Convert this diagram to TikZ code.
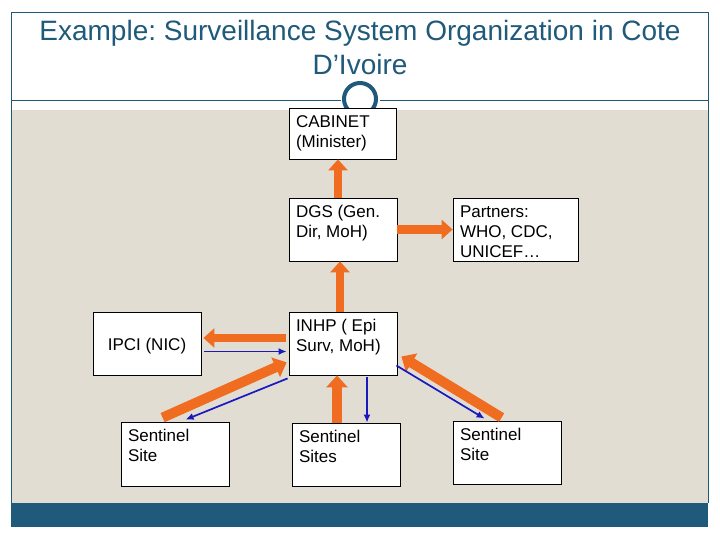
\documentclass[tikz,border=0pt]{standalone}
\usepackage{fontspec}
\setmainfont{Liberation Sans}
\usetikzlibrary{arrows.meta,calc}
\definecolor{titleblue}{RGB}{31,90,122}
\definecolor{bgbeige}{RGB}{226,221,211}
\definecolor{arrorange}{RGB}{240,108,32}
\definecolor{arrblue}{RGB}{25,25,190}
\newcommand\boxtext[3]{\parbox[c][#2][t]{#1}{\raggedright\leftskip=7pt\vspace*{5.5pt}\strut #3}}
\tikzset{
  box/.style={draw=black, line width=0.8pt, fill=white, inner sep=0pt},
  fatarrow/.style={draw=arrorange, line width=8pt, -{Triangle[length=11pt,width=19pt]}},
  fatdiag/.style={draw=arrorange, line width=10pt, -{Triangle[length=12pt,width=21pt]}},
  thinarrow/.style={draw=arrblue, line width=1.7pt, -{Latex[length=8pt,width=7pt]}},
}
\frenchspacing
\begin{document}
\begin{tikzpicture}[x=1pt,y=-1pt]
\useasboundingbox (0,0) rectangle (720,540);
\fill[white] (0,0) rectangle (720,540);
\fill[bgbeige] (11,110) rectangle (708,503);
\fill[titleblue] (11,503) rectangle (708,527);
\draw[titleblue, line width=0.8pt] (11,503) -- (11,12) -- (708,12) -- (708,503);
\draw[titleblue, line width=0.8pt] (11,100) -- (708,100);
\fill[white] (341,98) rectangle (380,102);
\draw[titleblue, line width=4pt] (360,99) circle (16);
\node[text=titleblue, font=\fontsize{28}{34}\selectfont, align=center] (title) at (360,47)
  {Example: Surveillance System Organization in Cote\\D’Ivoire};

\fontsize{17}{20}\selectfont
\node[box] (cab) at (342.5,133.5) {\boxtext{107pt}{51pt}{CABINET\\(Minister)}};
\node[box] (dgs) at (343,229.5) {\boxtext{108pt}{63pt}{DGS (Gen.\\Dir, MoH)}};
\node[box] (part) at (515.5,229.5) {\boxtext{125pt}{63pt}{Partners:\\WHO, CDC,\\UNICEF…}};
\node[box, minimum width=108pt, minimum height=63pt] (ipci) at (147,343.5) {\raisebox{-2.5pt}[\height][\depth]{IPCI (NIC)}};
\node[box] (inhp) at (343,343.5) {\boxtext{108pt}{63pt}{INHP ( Epi\\Surv, MoH)}};
\node[box] (sl) at (175,454) {\boxtext{108pt}{64pt}{Sentinel\\Site}};
\node[box] (sm) at (346,454.5) {\boxtext{108pt}{63pt}{Sentinel\\Sites}};
\node[box] (sr) at (507,452.5) {\boxtext{108pt}{63pt}{Sentinel\\Site}};

\draw[fatarrow] ($(dgs.north)+(-5,0)$) -- ($(cab.south)+(-4.5,0)$);
\draw[fatarrow] (dgs.east) -- (part.west);
\draw[fatarrow] ($(inhp.north)+(-3,0)$) -- ($(dgs.south)+(-3,0)$);
\draw[fatarrow, shorten >=2pt] ($(inhp.west)+(-3,-5.5)$) -- ($(ipci.east)+(0,-5.5)$);
\draw[thinarrow] ($(ipci.east)+(3,8)$) -- ($(inhp.west)+(-2,8)$);

\draw[fatdiag] ($(sl.north west)+(42,-4)$) -- ($(inhp.south west)+(-2,-13)$);
\draw[thinarrow] ($(inhp.south west)+(-1,3)$) -- ($(sl.north west)+(65,-2)$);
\draw[fatdiag] ($(sm.north)+(-9,0)$) -- ($(inhp.south)+(-6,0)$);
\draw[thinarrow] ($(inhp.south)+(24,2)$) -- ($(sm.north)+(21,0)$);
\draw[fatdiag] ($(sr.north west)+(49,-3)$) -- ($(inhp.east)+(4,13)$);
\draw[thinarrow] ($(inhp.east)+(-1,22)$) -- ($(sr.north west)+(32,-2)$);
\end{tikzpicture}
\end{document}
